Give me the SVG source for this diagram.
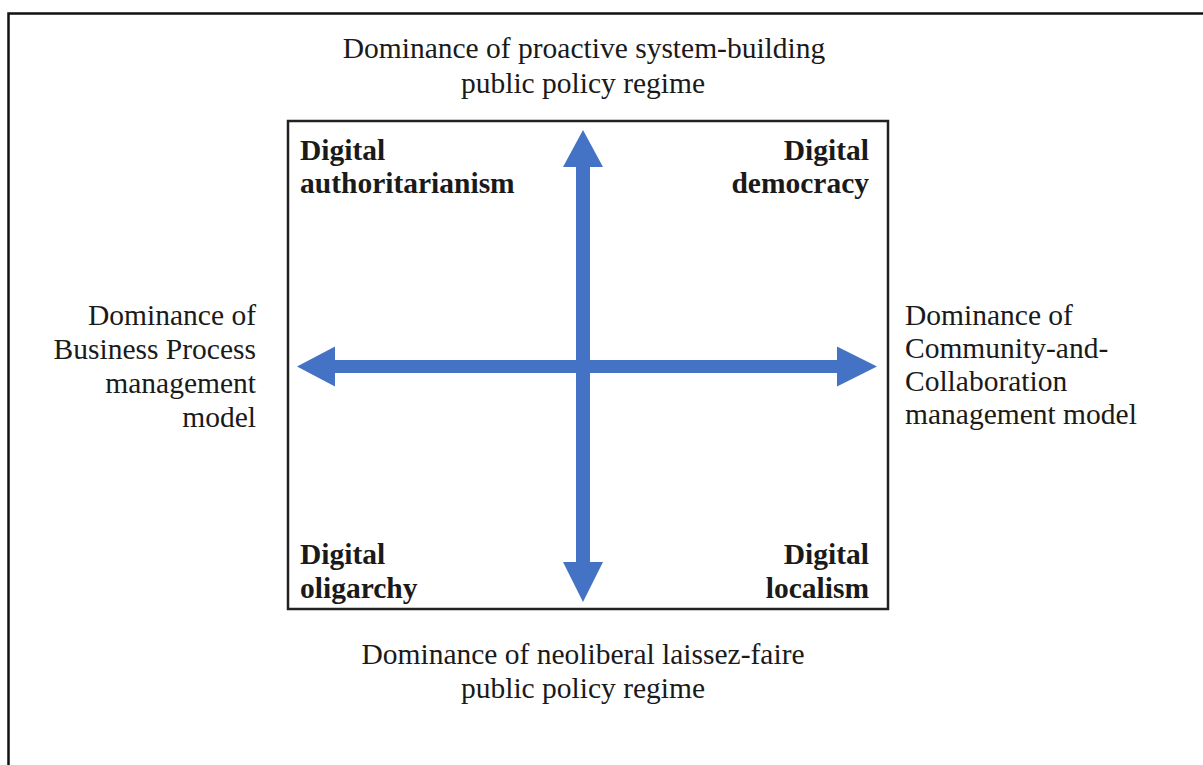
<svg xmlns="http://www.w3.org/2000/svg" width="1203" height="765" viewBox="0 0 1203 765">
  <style>
    .lbl { font-family: "Liberation Serif", "Times New Roman", serif; font-size: 29.5px; fill: #1a1a1a; }
    .quad { font-family: "Liberation Serif", "Times New Roman", serif; font-size: 29.5px; font-weight: bold; fill: #1a1a1a; }
    .axis { fill: #4472C4; }
  </style>
  <rect width="1203" height="765" fill="#ffffff"/>

  <!-- outer frame (top and left edges) -->
  <path d="M 8.5 765 V 13.5 H 1203" fill="none" stroke="#111" stroke-width="2.5"/>

  <!-- quadrant box -->
  <g id="quadrant-box">
    <rect x="288" y="121" width="600" height="488" fill="none" stroke="#222" stroke-width="2.5"/>
  </g>

  <!-- axes -->
  <g id="connectors">
    <polygon class="axis" points="297,366.5 335,346.5 335,360 837,360 837,346.5 877,366.5 837,386.5 837,373 335,373 335,386.5"/>
    <polygon class="axis" points="583,130 603,167 590,167 590,562 603,562 583,602 563,562 576,562 576,167 563,167"/>
  </g>

  <g id="top-label">
    <text class="lbl" x="584" y="58" text-anchor="middle">Dominance of proactive system-building</text>
    <text class="lbl" x="583" y="93" text-anchor="middle">public policy regime</text>
  </g>

  <g id="bottom-label">
    <text class="lbl" x="583" y="664" text-anchor="middle">Dominance of neoliberal laissez-faire</text>
    <text class="lbl" x="583" y="698" text-anchor="middle">public policy regime</text>
  </g>

  <g id="left-label">
    <text class="lbl" x="256" y="325" text-anchor="end">Dominance of</text>
    <text class="lbl" x="256" y="359" text-anchor="end">Business Process</text>
    <text class="lbl" x="256" y="393" text-anchor="end">management</text>
    <text class="lbl" x="256" y="427" text-anchor="end">model</text>
  </g>

  <g id="right-label">
    <text class="lbl" x="905" y="325">Dominance of</text>
    <text class="lbl" x="905" y="358">Community-and-</text>
    <text class="lbl" x="905" y="391">Collaboration</text>
    <text class="lbl" x="905" y="424">management model</text>
  </g>

  <g id="digital-authoritarianism">
    <text class="quad" x="300" y="160">Digital</text>
    <text class="quad" x="300" y="193">authoritarianism</text>
  </g>

  <g id="digital-democracy">
    <text class="quad" x="869" y="160" text-anchor="end">Digital</text>
    <text class="quad" x="869" y="193" text-anchor="end">democracy</text>
  </g>

  <g id="digital-oligarchy">
    <text class="quad" x="300" y="564">Digital</text>
    <text class="quad" x="300" y="598">oligarchy</text>
  </g>

  <g id="digital-localism">
    <text class="quad" x="869" y="564" text-anchor="end">Digital</text>
    <text class="quad" x="869" y="598" text-anchor="end">localism</text>
  </g>
</svg>
